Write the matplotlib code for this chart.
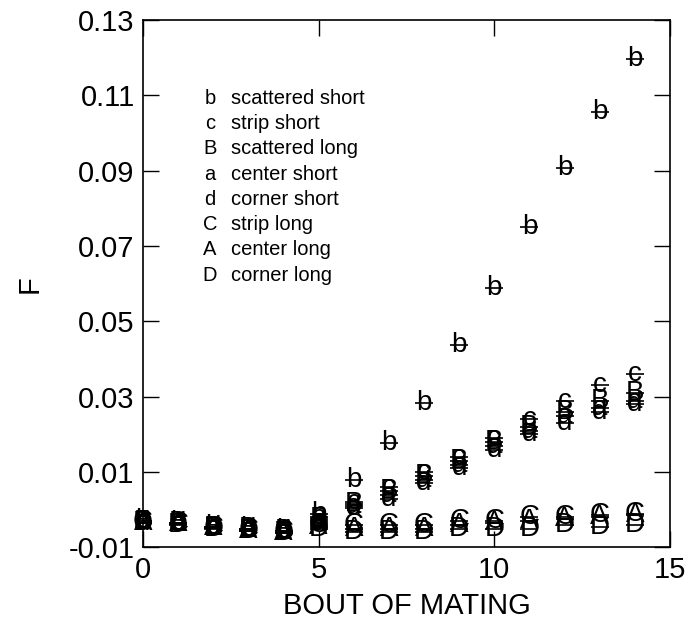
import matplotlib
matplotlib.use('Agg')
import matplotlib.pyplot as plt
import numpy as np

plt.rcParams['font.family'] = ['Liberation Sans', 'DejaVu Sans']

bout = np.arange(0, 15)

# F values per treatment
F_b = [-0.0030, -0.0035, -0.0045, -0.0050, -0.0055, -0.0010, 0.0079, 0.0177, 0.0284, 0.0437, 0.0590, 0.0750, 0.0906, 0.1057, 0.1196]
F_c = [-0.0030, -0.0035, -0.0045, -0.0050, -0.0055, -0.0020, 0.0020, 0.0060, 0.0100, 0.0140, 0.0190, 0.0240, 0.0290, 0.0330, 0.0360]
F_B = [-0.0032, -0.0036, -0.0047, -0.0052, -0.0057, -0.0025, 0.0015, 0.0050, 0.0090, 0.0130, 0.0180, 0.0220, 0.0260, 0.0290, 0.0310]
F_a = [-0.0033, -0.0037, -0.0048, -0.0053, -0.0058, -0.0030, 0.0010, 0.0040, 0.0080, 0.0120, 0.0170, 0.0210, 0.0250, 0.0270, 0.0290]
F_d = [-0.0034, -0.0038, -0.0049, -0.0054, -0.0059, -0.0035, 0.0005, 0.0030, 0.0070, 0.0110, 0.0160, 0.0200, 0.0230, 0.0260, 0.0280]
F_C = [-0.0033, -0.0037, -0.0048, -0.0054, -0.0060, -0.0040, -0.0040, -0.0040, -0.0040, -0.0030, -0.0030, -0.0020, -0.0020, -0.0015, -0.0010]
F_A = [-0.0034, -0.0038, -0.0049, -0.0055, -0.0061, -0.0045, -0.0050, -0.0050, -0.0050, -0.0040, -0.0035, -0.0030, -0.0025, -0.0020, -0.0015]
F_D = [-0.0035, -0.0040, -0.0050, -0.0056, -0.0062, -0.0050, -0.0060, -0.0060, -0.0060, -0.0050, -0.0050, -0.0050, -0.0040, -0.0045, -0.0040]

symbols = ['b', 'c', 'B', 'a', 'd', 'C', 'A', 'D']
names = ['scattered short', 'strip short', 'scattered long', 'center short',
         'corner short', 'strip long', 'center long', 'corner long']
series = [F_b, F_c, F_B, F_a, F_d, F_C, F_A, F_D]

fig = plt.figure(figsize=(7, 6.29), dpi=100)
ax = fig.add_axes([0.2043, 0.1296, 0.7527, 0.8386])

for sym, vals in zip(symbols, series):
    ax.plot(bout, vals, ls='none', marker='_', ms=13, mew=1.2, color='k')
    for x, y in zip(bout, vals):
        ax.text(x, y, sym, ha='center', va='center', fontsize=20, color='k')

# legend as plain text lines
for i, (sym, nm) in enumerate(zip(symbols, names)):
    yy = 0.852 - i * 0.048
    ax.text(0.127, yy, sym, transform=ax.transAxes, ha='center', va='center', fontsize=14.5)
    ax.text(0.167, yy, nm, transform=ax.transAxes, ha='left', va='center', fontsize=14.5)

ax.set_xlim(0, 15)
ax.set_ylim(-0.01, 0.13)
ax.set_xticks([0, 5, 10, 15])
ax.set_yticks(np.arange(-0.01, 0.131, 0.02))
ax.set_yticklabels(['-0.01', '0.01', '0.03', '0.05', '0.07', '0.09', '0.11', '0.13'])
ax.tick_params(direction='in', length=11.5, width=1, labelsize=21, top=True, right=True, pad=6)
for s in ax.spines.values():
    s.set_linewidth(1.2)

ax.set_xlabel('BOUT OF MATING', fontsize=21, labelpad=6)
ax.set_ylabel('F', fontsize=21, labelpad=18)

fig.savefig('out.png', dpi=100)
